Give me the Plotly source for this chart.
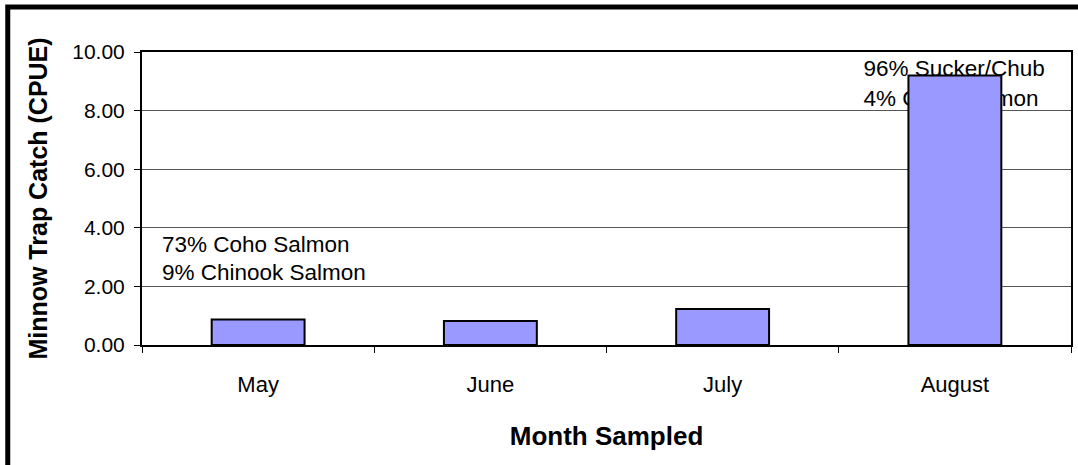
import plotly.graph_objects as go

months = ["May", "June", "July", "August"]
cpue = [0.87, 0.82, 1.23, 9.2]

may_notes = ["73% Coho Salmon", "9% Chinook Salmon"]
may_note_y = [3.50, 2.55]
aug_notes = ["96% Sucker/Chub", "4% Coho Salmon"]
aug_note_y = [9.52, 8.50]

FONT = "Arial, Liberation Sans, sans-serif"

fig = go.Figure(
    data=[
        go.Bar(
            x=months,
            y=cpue,
            marker=dict(color="#9999ff", line=dict(color="black", width=2)),
            hovertemplate="%{x}<br>%{y:.2f}<extra></extra>",
        )
    ]
)


def note_shapes(lines, ys, x_left):
    # labels on invisible shapes sit below the bars, like the original
    shapes = []
    for text, y in zip(lines, ys):
        shapes.append(
            dict(
                type="rect",
                xref="paper",
                yref="y",
                x0=x_left,
                x1=x_left + 0.2,
                y0=y - 0.4,
                y1=y + 0.4,
                line=dict(width=0),
                fillcolor="rgba(0,0,0,0)",
                layer="below",
                label=dict(
                    text=text,
                    textposition="middle left",
                    padding=0,
                    font=dict(family=FONT, size=22.5, color="black"),
                ),
            )
        )
    return shapes


shapes = note_shapes(may_notes, may_note_y, 0.0183) + note_shapes(aug_notes, aug_note_y, 0.7734)
# thick frame around the chart
shapes.append(
    dict(
        type="rect",
        xref="paper",
        yref="paper",
        x0=-0.1445,
        x1=1.3,
        y0=-0.8,
        y1=1.1536,
        line=dict(color="black", width=5),
        fillcolor="rgba(0,0,0,0)",
        layer="above",
    )
)

fig.update_layout(
    width=1078,
    height=465,
    margin=dict(l=142, r=5, t=52, b=120),
    plot_bgcolor="white",
    paper_bgcolor="white",
    font=dict(family=FONT, color="black"),
    bargap=0.6,
    showlegend=False,
    shapes=shapes,
)
fig.update_xaxes(
    showline=True,
    linecolor="black",
    linewidth=2,
    mirror=True,
    ticks="outside",
    tickson="boundaries",
    ticklen=6,
    tickcolor="black",
    tickfont=dict(size=22),
    ticklabelstandoff=19,
    showgrid=False,
    title=dict(text="<b>Month Sampled</b>", font=dict(size=26), standoff=30),
)
fig.update_yaxes(
    range=[0, 10],
    dtick=2,
    tickformat=".2f",
    showline=True,
    linecolor="black",
    linewidth=2,
    mirror=True,
    ticks="outside",
    ticklen=6,
    tickcolor="black",
    tickfont=dict(size=21),
    ticklabelstandoff=5,
    showgrid=True,
    gridcolor="#555555",
    gridwidth=1,
    zeroline=False,
    title=dict(text="<b>Minnow Trap Catch (CPUE)</b>", font=dict(size=25), standoff=17),
)

# drop the default 8px page margin so the figure sits at the window corner
fig.write_html(
    "out.html",
    config={"displayModeBar": False},
    post_script="document.body.style.margin='0';document.body.style.overflow='hidden';",
)
